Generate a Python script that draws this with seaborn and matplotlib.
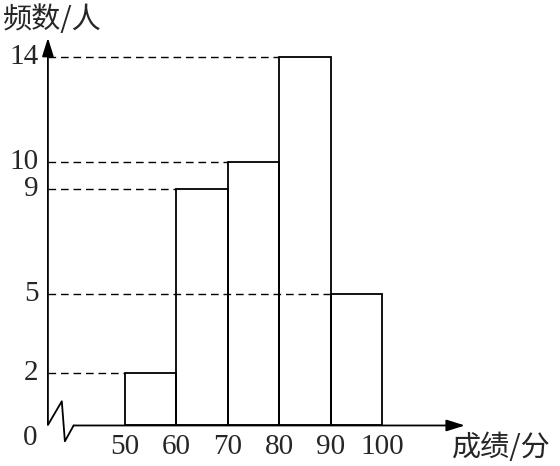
"""Frequency histogram of scores (textbook style)."""
import matplotlib
matplotlib.use("Agg")
import matplotlib.pyplot as plt
import numpy as np
import seaborn as sns

bin_edges = [50, 60, 70, 80, 90, 100]
counts = [2, 9, 10, 14, 5]
y_ticks = [2, 5, 9, 10, 14]
x_tick_labels = ["50", "60", "70", "80", "90", "100"]
y_label = "频数/人"
x_label = "成绩/分"

sns.set_theme(style="white")
plt.rcParams["font.family"] = ["Liberation Serif", "Noto Sans CJK SC", "DejaVu Sans"]

fig = plt.figure(figsize=(5.6, 4.66), dpi=100)
ax = fig.add_axes([0, 0, 1, 1])
ax.set_xlim(25.68, 134.6)
ax.set_ylim(-1.54, 16.17)
ax.set_axis_off()

mids = [(a + b) / 2 for a, b in zip(bin_edges[:-1], bin_edges[1:])]
sns.histplot(x=mids, weights=counts, bins=bin_edges, fill=False,
             color="black", linewidth=1.3, ax=ax)

# axes with arrows
x0 = 35
ax.annotate("", xy=(x0, 14.73), xytext=(x0, 0.05),
            arrowprops=dict(arrowstyle="-|>,head_length=0.7,head_width=0.22",
                            color="black", lw=1.3,
                            mutation_scale=16, shrinkA=0, shrinkB=0))
ax.annotate("", xy=(116.1, 0), xytext=(40, 0),
            arrowprops=dict(arrowstyle="-|>,head_length=0.7,head_width=0.22",
                            color="black", lw=1.3,
                            mutation_scale=16, shrinkA=0, shrinkB=0))
# broken-axis zigzag
ax.plot([x0, 37.7, 38.3, 40], [0.02, 0.92, -0.6, 0.0], color="black", lw=1.3)

# dashed guide lines to each bar's left edge
for c, left in zip(counts, bin_edges[:-1]):
    ax.plot([x0, left], [c, c], color="black", lw=1.0, dashes=(5.5, 3.5))

# tick labels
for v in y_ticks:
    ax.text(33.2, v, str(v), ha="right", va="center", fontsize=21)
ax.text(32.9, -0.48, "0", ha="right", va="center", fontsize=21)
for e, lab in zip(bin_edges, x_tick_labels):
    ax.text(e, -0.82, lab, ha="center", va="center", fontsize=21)

ax.text(26.2, 15.42, y_label, ha="left", va="center", fontsize=21,
        family=["Noto Sans CJK SC", "DejaVu Sans"])
ax.text(113.5, -0.85, x_label, ha="left", va="center", fontsize=21,
        family=["Noto Sans CJK SC", "DejaVu Sans"])

fig.savefig("out.png", dpi=100)
plt.close(fig)
